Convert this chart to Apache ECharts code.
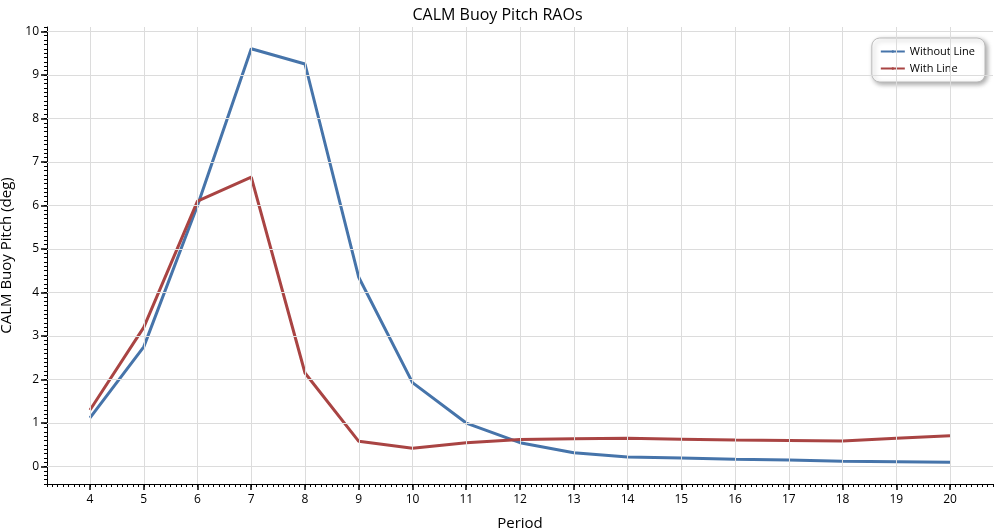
<!DOCTYPE html>
<html><head><meta charset="utf-8">
<script src="https://cdn.jsdelivr.net/npm/echarts@6/dist/echarts.min.js"></script>
<style>html,body{margin:0;padding:0;background:#fff}#c{width:995px;height:530px}</style>
</head><body><div id="c"></div>
<script>
const periods = [4,5,6,7,8,9,10,11,12,13,14,15,16,17,18,19,20];
const withoutLine = [1.12,2.75,6.0,9.6,9.25,4.35,1.93,1.0,0.55,0.32,0.22,0.2,0.17,0.15,0.12,0.11,0.1];
const withLine = [1.3,3.2,6.1,6.65,2.15,0.58,0.42,0.55,0.62,0.64,0.65,0.63,0.61,0.6,0.59,0.65,0.71];
const xTicks = [4,5,6,7,8,9,10,11,12,13,14,15,16,17,18,19,20];
const yTicks = [0,1,2,3,4,5,6,7,8,9,10];
const xMinor = []; for (let i=32;i<=208;i++) xMinor.push(i/10);
const yMinor = []; for (let i=-4;i<=101;i++) yMinor.push(i/10);
const font = 'Segoe UI, "Open Sans", "Noto Sans", sans-serif';
const chart = echarts.init(document.getElementById('c'));
const gridLines = xTicks.map(v=>({xAxis:v})).concat(yTicks.map(v=>({yAxis:v})));
chart.setOption({
  animation:false,
  title:{text:'CALM Buoy Pitch RAOs',left:'center',top:2,textStyle:{fontFamily:font,fontSize:16,fontWeight:'normal',color:'#000'}},
  legend:{orient:'vertical',right:10,top:38,width:90,padding:[8,10,8,8],itemGap:6,itemWidth:24,itemHeight:3,
    backgroundColor:'#fff',borderColor:'#bbb',borderWidth:1,borderRadius:8,shadowBlur:5,shadowColor:'rgba(0,0,0,0.35)',shadowOffsetX:2,shadowOffsetY:2,
    textStyle:{fontFamily:font,fontSize:11,color:'#000'},data:['Without Line','With Line']},
  grid:{left:47,right:2,top:27,bottom:46,containLabel:false,outerBoundsMode:'none'},
  xAxis:[{type:'value',min:3.2,max:20.8,name:'Period',nameLocation:'middle',nameGap:32,
    nameTextStyle:{fontFamily:font,fontSize:15,color:'#000'},
    axisLine:{onZero:false,lineStyle:{color:'#000',width:1}},
    axisTick:{customValues:xTicks,length:6,lineStyle:{color:'#000',width:1.5}},
    axisLabel:{customValues:xTicks,fontFamily:font,fontSize:12,color:'#000',margin:10},
    splitLine:{show:false}},
   {type:'value',min:3.2,max:20.8,position:'bottom',axisLine:{show:false,onZero:false},
    axisTick:{customValues:xMinor,length:3,lineStyle:{color:'#000'}},axisLabel:{show:false},splitLine:{show:false}}],
  yAxis:[{type:'value',min:-0.4,max:10.1,name:'CALM Buoy Pitch (deg)',nameLocation:'middle',nameGap:30,
    nameTextStyle:{fontFamily:font,fontSize:15,color:'#000'},
    axisLine:{show:true,onZero:false,lineStyle:{color:'#000',width:1}},
    axisTick:{show:true,customValues:yTicks,length:6,lineStyle:{color:'#000',width:1.5}},
    axisLabel:{customValues:yTicks,fontFamily:font,fontSize:12,color:'#000',margin:8},
    splitLine:{show:false}},
   {type:'value',min:-0.4,max:10.1,position:'left',axisLine:{show:false,onZero:false},
    axisTick:{show:true,customValues:yMinor,length:3,lineStyle:{color:'#000'}},axisLabel:{show:false},splitLine:{show:false}}],
  series:[
    {name:'grid',type:'line',data:[],silent:true,markLine:{silent:true,symbol:'none',label:{show:false},
      lineStyle:{color:'#dcdcdc',type:'solid',width:1},data:gridLines},z:1},
    {name:'Without Line',type:'line',data:periods.map((p,i)=>[p,withoutLine[i]]),symbol:'none',
      lineStyle:{color:'#4674aa',width:3},itemStyle:{color:'#4674aa'},z:3},
    {name:'With Line',type:'line',data:periods.map((p,i)=>[p,withLine[i]]),symbol:'none',
      lineStyle:{color:'#a94443',width:3},itemStyle:{color:'#a94443'},z:4}
  ]
});
</script></body></html>
